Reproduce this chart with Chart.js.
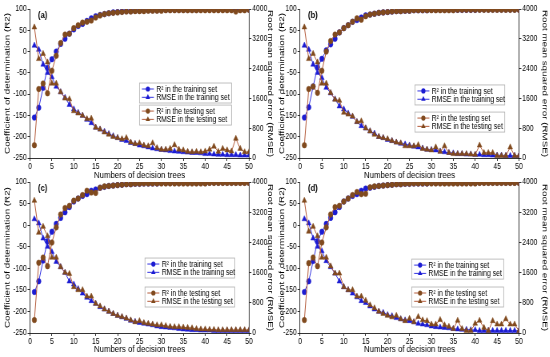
<!DOCTYPE html>
<html>
<head>
<meta charset="utf-8">
<script src="https://cdn.jsdelivr.net/npm/chart.js@4/dist/chart.umd.min.js"></script>
<style>
  html, body { margin: 0; padding: 0; background: #fff; }
  body { width: 550px; height: 357px; position: relative; overflow: hidden; }
  /* the source figure is squeezed horizontally, so each panel is too */
  .panel { position: absolute; transform: scaleX(0.8); transform-origin: 0 0; }
</style>
</head>
<body>
<div class="panel" style="left:0;top:0;width:350px;height:181px"><canvas id="chart-a"></canvas></div>
<div class="panel" style="left:277px;top:0;width:341px;height:181px"><canvas id="chart-b"></canvas></div>
<div class="panel" style="left:0;top:176px;width:350px;height:181px"><canvas id="chart-c"></canvas></div>
<div class="panel" style="left:277px;top:176px;width:341px;height:181px"><canvas id="chart-d"></canvas></div>
<script>
var trees = [1, 2, 3, 4, 5, 6, 7, 8, 9, 10, 11, 12, 13, 14, 15, 16, 17, 18, 19, 20,
  21, 22, 23, 24, 25, 26, 27, 28, 29, 30, 31, 32, 33, 34, 35, 36, 37, 38, 39, 40,
  41, 42, 43, 44, 45, 46, 47, 48, 49, 50];
var xTicks = [0, 5, 10, 15, 20, 25, 30, 35, 40, 45, 50];
var r2Ticks = [-250, -200, -150, -100, -50, 0, 50, 100];
var rmseTicks = [0, 800, 1600, 2400, 3200, 4000];

// (a)
var aR2Train = [-155, -132, -85, -38, -18, 0, 18, 30, 42, 52, 60, 65, 72, 78, 83, 86, 88, 90, 92, 93,
  94, 95, 95, 96, 96, 97, 97, 97, 97, 98, 98, 98, 98, 98, 98, 98, 98, 98, 99, 99,
  99, 99, 99, 99, 99, 99, 99, 99, 99, 99];
var aRmseTrain = [3020, 2910, 2510, 2290, 2170, 1920, 1770, 1620, 1430, 1310, 1220, 1140, 1030, 940, 820, 770, 710, 650, 590, 540,
  490, 460, 410, 380, 340, 320, 290, 260, 240, 220, 210, 190, 180, 170, 160, 150, 140, 140, 130, 110,
  110, 100, 90, 90, 80, 80, 80, 70, 70, 70];
var aR2Test = [-220, -88, -75, -98, -45, -10, 20, 40, 42, 55, 62, 68, 70, 73, 80, 85, 88, 90, 91, 92,
  93, 94, 94, 95, 95, 95, 96, 96, 96, 96, 97, 97, 97, 97, 97, 97, 97, 97, 97, 97,
  97, 97, 97, 97, 97, 97, 94, 97, 97, 98];
var aRmseTest = [3510, 2660, 2800, 2570, 2000, 2000, 1770, 1600, 1580, 1260, 1200, 1140, 1050, 1060, 820, 770, 690, 630, 570, 540,
  510, 540, 420, 380, 400, 340, 320, 400, 270, 230, 230, 250, 350, 230, 210, 170, 160, 170, 160, 180,
  230, 310, 170, 250, 210, 180, 520, 250, 160, 160];

// (b)
var bR2Train = [-155, -131, -82, -37, -17, 3, 17, 30, 45, 55, 62, 70, 74, 80, 85, 87, 89, 91, 92, 93,
  94, 95, 95, 96, 96, 97, 97, 97, 97, 98, 98, 98, 98, 98, 98, 98, 98, 98, 98, 98,
  99, 99, 99, 99, 99, 99, 99, 99, 99, 99];
var bRmseTrain = [3020, 2910, 2510, 2290, 2150, 1890, 1740, 1580, 1390, 1310, 1200, 1110, 970, 860, 800, 720, 660, 570, 540, 490,
  460, 420, 390, 370, 340, 310, 290, 260, 230, 220, 210, 180, 160, 140, 130, 110, 110, 100, 100, 90,
  90, 80, 80, 70, 70, 70, 60, 60, 60, 60];
var bR2Test = [-220, -88, -82, -97, -45, 0, 25, 40, 45, 55, 62, 70, 78, 75, 83, 87, 89, 91, 92, 93,
  94, 95, 95, 96, 96, 97, 97, 97, 97, 97, 97, 97, 97, 97, 97, 98, 98, 98, 98, 98,
  98, 98, 98, 98, 98, 98, 98, 98, 98, 98];
var bRmseTest = [3510, 2660, 2800, 2570, 2000, 2000, 1750, 1570, 1540, 1220, 1170, 1120, 970, 990, 800, 720, 630, 570, 540, 510,
  460, 420, 400, 320, 320, 320, 350, 250, 230, 210, 290, 170, 320, 140, 110, 110, 110, 110, 100, 90,
  340, 140, 140, 140, 60, 60, 60, 290, 60, 60];

// (c)
var cR2Train = [-155, -130, -82, -37, -15, 3, 17, 30, 42, 55, 62, 68, 72, 80, 83, 87, 89, 91, 92, 93,
  94, 95, 95, 96, 96, 97, 97, 97, 97, 98, 98, 98, 98, 98, 98, 98, 98, 98, 98, 98,
  99, 99, 99, 99, 99, 99, 99, 99, 99, 99];
var cRmseTrain = [3020, 2910, 2510, 2290, 2150, 1890, 1750, 1600, 1370, 1290, 1170, 1050, 940, 850, 780, 690, 630, 570, 510, 460,
  420, 380, 330, 300, 270, 250, 230, 210, 180, 160, 150, 140, 130, 110, 100, 90, 80, 80, 70, 70,
  70, 60, 60, 60, 60, 60, 60, 60, 60, 60];
var cR2Test = [-220, -87, -75, -95, -40, -5, 25, 40, 45, 57, 62, 70, 80, 76, 75, 87, 90, 91, 92, 93,
  94, 95, 95, 96, 96, 97, 97, 97, 97, 97, 97, 97, 97, 97, 97, 97, 97, 97, 97, 97,
  98, 98, 98, 98, 98, 98, 98, 98, 98, 98];
var cRmseTest = [3510, 2660, 2820, 2570, 2000, 2000, 1750, 1600, 1570, 1220, 1140, 1140, 970, 970, 780, 710, 630, 570, 510, 460,
  430, 390, 340, 290, 320, 270, 250, 230, 210, 210, 190, 170, 160, 160, 150, 140, 130, 110, 100, 100,
  90, 90, 80, 80, 80, 80, 80, 80, 80, 80];

// (d)
var dR2Train = [-155, -130, -83, -37, -15, 3, 17, 30, 42, 55, 62, 68, 72, 80, 85, 87, 89, 91, 92, 93,
  94, 95, 95, 96, 96, 97, 97, 97, 97, 98, 98, 98, 98, 98, 98, 98, 98, 98, 98, 98,
  99, 99, 99, 99, 99, 99, 99, 99, 99, 99];
var dRmseTrain = [3020, 2910, 2510, 2290, 2170, 1910, 1750, 1580, 1370, 1220, 1140, 1050, 950, 850, 800, 710, 630, 570, 540, 480,
  450, 400, 370, 340, 320, 290, 250, 230, 210, 180, 160, 150, 140, 130, 110, 100, 90, 90, 80, 80,
  60, 60, 60, 60, 60, 60, 60, 60, 60, 60];
var dR2Test = [-220, -88, -75, -95, -40, -5, 25, 42, 45, 55, 62, 70, 77, 72, 73, 88, 90, 91, 92, 93,
  94, 95, 95, 96, 96, 97, 97, 97, 97, 97, 97, 97, 97, 97, 97, 97, 97, 97, 97, 97,
  98, 98, 98, 98, 98, 98, 98, 98, 98, 98];
var dRmseTest = [3510, 2690, 2820, 2570, 2000, 2000, 1770, 1580, 1580, 1220, 1140, 1140, 970, 970, 860, 740, 660, 570, 510, 460,
  420, 460, 370, 320, 380, 290, 430, 340, 320, 230, 230, 350, 210, 170, 110, 330, 110, 60, 60, 250,
  330, 140, 60, 320, 230, 230, 370, 230, 230, 60];

var BLUE = '#1c1cd2', BLUE_LINE = '#3434e0';
var BROWN = '#804a1e', BROWN_LINE = '#b45c3c';
var FONT = '"Liberation Sans", Arial, sans-serif';

var LEGEND_ROWS = [
  [{ text: 'R\u00b2 in the training set', style: 'circle', color: BLUE, line: BLUE_LINE },
   { text: 'RMSE in the training set', style: 'triangle', color: BLUE, line: BLUE_LINE }],
  [{ text: 'R\u00b2 in the testing set', style: 'circle', color: BROWN, line: BROWN_LINE },
   { text: 'RMSE in the testing set', style: 'triangle', color: BROWN, line: BROWN_LINE }]
];

function marker(ctx, style, x, y, r, color) {
  ctx.beginPath();
  if (style === 'circle') {
    ctx.arc(x, y, r, 0, Math.PI * 2);
  } else {
    ctx.moveTo(x, y - r);
    ctx.lineTo(x + r * 0.866, y + r * 0.5);
    ctx.lineTo(x - r * 0.866, y + r * 0.5);
    ctx.closePath();
  }
  ctx.fillStyle = color;
  ctx.fill();
}

// panel tag + the two boxed legends
var overlay = {
  id: 'overlay',
  afterDraw: function (chart) {
    var o = chart.options.plugins.overlay;
    var a = chart.chartArea, ctx = chart.ctx;
    var w = a.right - a.left, h = a.bottom - a.top;
    ctx.save();
    ctx.fillStyle = '#000';
    ctx.textBaseline = 'middle';
    ctx.font = 'bold 9.5px ' + FONT;
    ctx.fillText(o.tag, a.left + 10, a.top + 6);

    var x0 = a.left + o.lx * w;
    var bw = o.bw * w;
    ctx.font = '8.5px ' + FONT;
    [o.ly1, o.ly2].forEach(function (fy, g) {
      var y0 = a.top + fy * h;
      ctx.strokeStyle = '#b0b0b0';
      ctx.lineWidth = 0.8;
      ctx.strokeRect(x0, y0 - 6, bw, 20);
      LEGEND_ROWS[g].forEach(function (row, k) {
        var y = y0 + k * 8.3;
        ctx.strokeStyle = row.line;
        ctx.lineWidth = 1;
        ctx.beginPath();
        ctx.moveTo(x0 + 3, y);
        ctx.lineTo(x0 + 18, y);
        ctx.stroke();
        marker(ctx, row.style, x0 + 10.5, y, row.style === 'circle' ? 2.6 : 3.2, row.color);
        ctx.fillStyle = '#000';
        ctx.fillText(row.text, x0 + 21, y + 0.5);
      });
    });
    ctx.restore();
  }
};

function series(data, axis, style, color, line, order) {
  return {
    data: data.map(function (v, i) { return { x: trees[i], y: v }; }),
    yAxisID: axis,
    pointStyle: style,
    pointRadius: style === 'triangle' ? 3.4 : 2.8,
    pointBackgroundColor: color,
    pointBorderColor: color,
    pointBorderWidth: 0.5,
    borderColor: line,
    borderWidth: 1,
    order: order
  };
}

function plain(v) { return String(v); }

function makePanel(id, p) {
  var tickFont = { family: FONT, size: 8.5 };
  var titleFont = { family: FONT, size: 9.8 };
  var axisGrid = { drawOnChartArea: false, tickLength: 3, color: '#000', lineWidth: 0.8 };
  var axisBorder = { color: '#000', width: 0.8 };

  new Chart(document.getElementById(id), {
    type: 'line',
    data: {
      datasets: [
        series(p.r2Test, 'y', 'circle', BROWN, BROWN_LINE, 1),
        series(p.rmseTest, 'y1', 'triangle', BROWN, BROWN_LINE, 2),
        series(p.r2Train, 'y', 'circle', BLUE, BLUE_LINE, 3),
        series(p.rmseTrain, 'y1', 'triangle', BLUE, BLUE_LINE, 4)
      ]
    },
    options: {
      responsive: true,
      maintainAspectRatio: false,
      animation: false,
      events: [],
      layout: { padding: { top: p.padTop, left: 0, right: 0, bottom: 0 } },
      plugins: {
        legend: { display: false },
        tooltip: { enabled: false },
        overlay: p.overlay
      },
      scales: {
        x: {
          type: 'linear',
          min: xTicks[0],
          max: xTicks[xTicks.length - 1],
          ticks: { stepSize: xTicks[1] - xTicks[0], font: tickFont, color: '#000', padding: 1, maxRotation: 0, callback: plain },
          grid: axisGrid,
          border: axisBorder,
          title: { display: true, text: 'Numbers of decision trees', font: titleFont, color: '#000',
                   padding: { top: 0, bottom: p.xTitlePad } },
          afterFit: function (s) { s.height = p.xH; }
        },
        y: {
          position: 'left',
          min: r2Ticks[0],
          max: r2Ticks[r2Ticks.length - 1],
          ticks: { stepSize: r2Ticks[1] - r2Ticks[0], font: tickFont, color: '#000', padding: 1, callback: plain },
          grid: axisGrid,
          border: axisBorder,
          title: { display: true, text: 'Coefficient of determination (R2)', font: titleFont, color: '#000',
                   padding: { top: p.leftTitlePad, bottom: 0 } },
          afterFit: function (s) { s.width = p.leftW; }
        },
        y1: {
          position: 'right',
          min: rmseTicks[0],
          max: rmseTicks[rmseTicks.length - 1],
          ticks: { stepSize: rmseTicks[1] - rmseTicks[0], font: tickFont, color: '#000', padding: 1, callback: plain },
          grid: axisGrid,
          border: axisBorder,
          title: { display: true, text: 'Root mean squared error (RMSE)', font: titleFont, color: '#000',
                   padding: { top: p.rightTitlePad, bottom: 0 } },
          afterFit: function (s) { s.width = p.rightW; }
        }
      }
    },
    plugins: [overlay]
  });
}

makePanel('chart-a', {
  r2Train: aR2Train, rmseTrain: aRmseTrain, r2Test: aR2Test, rmseTest: aRmseTest,
  padTop: 9, xH: 23, xTitlePad: 0, leftW: 37.5, rightW: 38.75, leftTitlePad: 3, rightTitlePad: 6.5,
  overlay: { tag: '(a)', lx: 0.50, bw: 0.42, ly1: 0.537, ly2: 0.685 }
});
makePanel('chart-b', {
  r2Train: bR2Train, rmseTrain: bRmseTrain, r2Test: bR2Test, rmseTest: bRmseTest,
  padTop: 9, xH: 23, xTitlePad: 0, leftW: 28.75, rightW: 38.5, leftTitlePad: 0.5, rightTitlePad: 0.5,
  overlay: { tag: '(b)', lx: 0.525, bw: 0.41, ly1: 0.55, ly2: 0.732 }
});
makePanel('chart-c', {
  r2Train: cR2Train, rmseTrain: cRmseTrain, r2Test: cR2Test, rmseTest: cRmseTest,
  padTop: 6, xH: 24, xTitlePad: 2, leftW: 37.5, rightW: 38.75, leftTitlePad: 3, rightTitlePad: 6.5,
  overlay: { tag: '(c)', lx: 0.525, bw: 0.41, ly1: 0.543, ly2: 0.735 }
});
makePanel('chart-d', {
  r2Train: dR2Train, rmseTrain: dRmseTrain, r2Test: dR2Test, rmseTest: dRmseTest,
  padTop: 6, xH: 24, xTitlePad: 2, leftW: 28.75, rightW: 38.5, leftTitlePad: 0.5, rightTitlePad: 0.5,
  overlay: { tag: '(d)', lx: 0.51, bw: 0.42, ly1: 0.55, ly2: 0.735 }
});
</script>
</body>
</html>
